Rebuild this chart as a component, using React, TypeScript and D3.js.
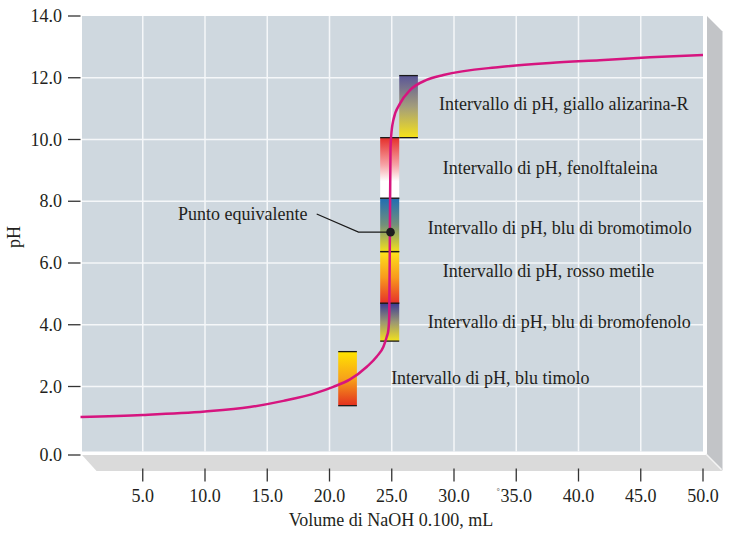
import React from "react";
import * as d3 from "d3";

// ---- data ----
const volumes = [0, 5, 10, 13.6, 16.3, 19, 20.3, 21.65, 23, 23.8, 24.33, 24.6, 24.73, 24.8, 24.85, 24.9, 24.95, 25.13, 25.67, 26.47, 27.8, 29.15, 33.7, 37.7, 41.7, 45.75, 50];
const phValues = [1.11, 1.17, 1.27, 1.4, 1.58, 1.82, 1.99, 2.23, 2.64, 2.97, 3.29, 3.61, 3.83, 4.3, 7.0, 9.7, 10.09, 10.63, 11.17, 11.6, 11.93, 12.09, 12.35, 12.48, 12.57, 12.66, 12.74];

const indicatorNames = ["blu timolo", "blu di bromofenolo", "rosso metile", "blu di bromotimolo", "fenolftaleina", "giallo alizarina-R"];
const indicatorLow = [1.44, 3.47, 4.7, 6.37, 8.1, 10.06];
const indicatorHigh = [3.13, 4.7, 6.37, 8.1, 10.06, 12.07];
const indicatorVolStart = [20.7, 24.07, 24.07, 24.07, 24.07, 25.6];
const indicatorVolEnd = [22.2, 25.6, 25.6, 25.6, 25.6, 27.1];

const xTicks = [5, 10, 15, 20, 25, 30, 35, 40, 45, 50];
const yTicks = [0, 2, 4, 6, 8, 10, 12, 14];

const equivVolume = 24.9;
const equivPH = 7.0;

// ---- styles ----
const gradientStops: string[][] = [
  ["#ffe400", "#f7a21a", "#e3301f"],
  ["#3b3a94", "#9b9772", "#f3e21c"],
  ["#fde51b", "#f99a1d", "#e5312a"],
  ["#1f6db4", "#73907a", "#f2e01c"],
  ["#e52f2a", "#f7a3a6", "#ffffff"],
  ["#5a5697", "#a39d7c", "#f7e318"],
];
// label anchor positions (in data coordinates)
const labelVol = [24.95, 27.9, 29.1, 27.9, 29.1, 28.8];
const labelPH = [2.08, 3.89, 5.55, 6.94, 8.88, 10.955];

const W = 733;
const H = 546;
const FONT = "'Liberation Serif', 'Times New Roman', serif";
const TEXT = "#231f20";

export default function App() {
  const x = d3.scaleLinear().domain([0, 50]).range([80.5, 703]);
  const y = d3.scaleLinear().domain([0, 2, 14]).range([455, 386.5, 16]);

  const pts = volumes.map((v, i) => [v, phValues[i]] as [number, number]);
  const line = d3
    .line<[number, number]>()
    .x((d) => x(d[0]))
    .y((d) => y(d[1]))
    .curve(d3.curveMonotoneX);

  const pL = x(0) + 1.5;
  const pR = x(50);
  const pT = y(14);
  const pB = y(0) - 3.5;
  const fT = y(0);
  const depth = 15.5;

  return (
    <svg width={W} height={H} style={{ display: "block", position: "absolute", left: 0, top: 0 }}>
      <defs>
        {gradientStops.map((stops, i) => (
          <linearGradient key={i} id={`grad${i}`} x1="0" y1="0" x2="0" y2="1">
            {i === 4 ? (
              <>
                <stop offset="0%" stopColor={stops[0]} />
                <stop offset="45%" stopColor={stops[1]} />
                <stop offset="72%" stopColor={stops[2]} />
                <stop offset="100%" stopColor={stops[2]} />
              </>
            ) : (
              <>
                <stop offset="0%" stopColor={stops[0]} />
                <stop offset="50%" stopColor={stops[1]} />
                <stop offset="100%" stopColor={stops[2]} />
              </>
            )}
          </linearGradient>
        ))}
      </defs>
      <rect x={0} y={0} width={W} height={H} fill="#ffffff" />

      {/* 3D box faces */}
      <polygon
        points={`${pR + 4},${pT} ${pR + 4 + depth},${pT + depth} ${pR + 4 + depth},${fT + depth} ${pR + 4},${fT}`}
        fill="#c2c4c7"
      />
      <polygon
        points={`${pL},${fT} ${pR + 4},${fT} ${pR + 4 + depth},${fT + depth + 0.5} ${pL + depth - 1},${fT + depth + 0.5}`}
        fill="#dadada"
      />
      <line x1={pR + 3} y1={fT - 1} x2={pR + 3 + depth} y2={fT + depth - 1} stroke="#f4f4f4" strokeWidth={1.5} />

      {/* panel */}
      <rect x={pL} y={pT} width={pR - pL} height={pB - pT} fill="#cfd8df" />

      {/* grid */}
      {xTicks
        .filter((t) => t < 50)
        .map((t) => (
          <line key={`gx${t}`} x1={x(t)} x2={x(t)} y1={pT} y2={pB} stroke="#f5f7f9" strokeWidth={1.5} />
        ))}
      {yTicks
        .filter((t) => t > 0 && t < 14)
        .map((t) => (
          <line key={`gy${t}`} x1={pL} x2={pR} y1={y(t)} y2={y(t)} stroke="#f5f7f9" strokeWidth={1.5} />
        ))}

      {/* indicator bars */}
      {indicatorNames.map((n, i) => (
        <g key={`bar${i}`}>
          <rect
            x={x(indicatorVolStart[i])}
            y={y(indicatorHigh[i])}
            width={x(indicatorVolEnd[i]) - x(indicatorVolStart[i])}
            height={y(indicatorLow[i]) - y(indicatorHigh[i])}
            fill={`url(#grad${i})`}
          />
          <line x1={x(indicatorVolStart[i])} x2={x(indicatorVolEnd[i])} y1={y(indicatorHigh[i])} y2={y(indicatorHigh[i])} stroke="#1a1a1a" strokeWidth={1.3} />
          <line x1={x(indicatorVolStart[i])} x2={x(indicatorVolEnd[i])} y1={y(indicatorLow[i])} y2={y(indicatorLow[i])} stroke="#1a1a1a" strokeWidth={1.3} />
        </g>
      ))}

      {/* titration curve */}
      <path d={line(pts) || ""} fill="none" stroke="#d6157f" strokeWidth={2.5} />

      {/* equivalence point */}
      <polyline
        points={`316.7,214 ${x(equivVolume) - 32},${y(equivPH)} ${x(equivVolume)},${y(equivPH)}`}
        fill="none"
        stroke="#1a1a1a"
        strokeWidth={1.2}
      />
      <circle cx={x(equivVolume)} cy={y(equivPH)} r={4.3} fill="#1e1e1e" />
      <text x={178} y={220} fontFamily={FONT} fontSize={18} fill={TEXT}>
        Punto equivalente
      </text>

      {/* labels */}
      {indicatorNames.map((n, i) => (
        <text key={`lab${i}`} x={x(labelVol[i])} y={y(labelPH[i])} fontFamily={FONT} fontSize={18} fill={TEXT}>
          {`Intervallo di pH, ${n}`}
        </text>
      ))}

      {/* y axis */}
      {yTicks.map((t) => (
        <g key={`yt${t}`}>
          <line x1={68} x2={80.5} y1={y(t)} y2={y(t)} stroke="#333" strokeWidth={1.3} />
          <text x={62} y={y(t) + 6} textAnchor="end" fontFamily={FONT} fontSize={18} fill={TEXT}>
            {t.toFixed(1)}
          </text>
        </g>
      ))}
      <text
        transform={`translate(20, 237) rotate(-90)`}
        textAnchor="middle"
        fontFamily={FONT}
        fontSize={18}
        fill={TEXT}
      >
        pH
      </text>

      {/* x axis */}
      {xTicks.map((t) => (
        <g key={`xt${t}`}>
          <line x1={x(t)} x2={x(t)} y1={468.5} y2={481.5} stroke="#333" strokeWidth={1.3} />
          <text x={x(t)} y={501.5} textAnchor="middle" fontFamily={FONT} fontSize={18} fill={TEXT}>
            {t.toFixed(1)}
          </text>
        </g>
      ))}
      <text x={x(35) - 18} y={497} textAnchor="middle" fontFamily={FONT} fontSize={12} fill="#666">
        ˚
      </text>
      <text x={391} y={526} textAnchor="middle" fontFamily={FONT} fontSize={18} fill={TEXT}>
        Volume di NaOH 0.100, mL
      </text>
    </svg>
  );
}
